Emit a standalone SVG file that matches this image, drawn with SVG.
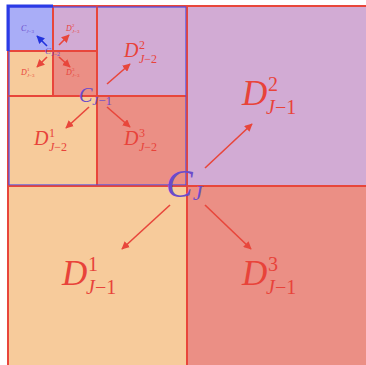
<svg xmlns="http://www.w3.org/2000/svg" width="366" height="365" viewBox="0 0 366 365">
<defs>
<style>
.pe{fill:#F7CB9B}.sa{fill:#EB8F85}.la{fill:#D2ABD4}.bl{fill:#A9ADF7}
.rb{fill:none;stroke:#E8463B;stroke-width:2}
.bb{fill:none;stroke:#4B4FE6;stroke-width:1.2}
.d{font-family:"Liberation Serif",serif;fill:#E8433A}
.c{font-family:"Liberation Serif",serif;fill:#6A4BCB}
.i{font-style:italic}
.ar{stroke:#E8463B;stroke-width:1.6;fill:none;marker-end:url(#ah)}
.ab{stroke:#2233DD;stroke-width:1.6;fill:none;marker-end:url(#ahb)}
</style>
<marker id="ah" viewBox="0 0 10 10" refX="9" refY="5" markerWidth="5" markerHeight="5" orient="auto"><path d="M0,0 L10,5 L0,10 z" fill="#E8463B"/></marker>
<marker id="ahb" viewBox="0 0 10 10" refX="9" refY="5" markerWidth="5" markerHeight="5" orient="auto"><path d="M0,0 L10,5 L0,10 z" fill="#2233DD"/></marker>
</defs>
<rect width="366" height="365" fill="#FFFFFF"/>
<g id="D2_J1"><rect class="la" x="187" y="6" width="183" height="180"/><rect class="rb" x="187" y="6" width="183" height="180"/>
<text class="d" x="242" y="105" font-size="35"><tspan class="i">D</tspan><tspan x="268" y="91" font-size="20">2</tspan><tspan class="i" x="266" y="114" font-size="20">J</tspan><tspan font-size="20">−1</tspan></text></g>
<g id="D1_J1"><rect class="pe" x="8" y="186" width="179" height="184"/><rect class="rb" x="8" y="186" width="179" height="184"/>
<text class="d" x="62" y="285" font-size="35"><tspan class="i">D</tspan><tspan x="88" y="271" font-size="20">1</tspan><tspan class="i" x="86" y="294" font-size="20">J</tspan><tspan font-size="20">−1</tspan></text></g>
<g id="D3_J1"><rect class="sa" x="187" y="186" width="183" height="184"/><rect class="rb" x="187" y="186" width="183" height="184"/>
<text class="d" x="242" y="285" font-size="35"><tspan class="i">D</tspan><tspan x="268" y="271" font-size="20">3</tspan><tspan class="i" x="266" y="294" font-size="20">J</tspan><tspan font-size="20">−1</tspan></text></g>
<g id="D2_J2"><rect class="la" x="97" y="6" width="90" height="90"/><rect class="rb" x="97" y="6" width="90" height="90"/>
<text class="d" x="124" y="57" font-size="20"><tspan class="i">D</tspan><tspan x="139" y="49" font-size="12">2</tspan><tspan class="i" x="139" y="63" font-size="12">J</tspan><tspan font-size="12">−2</tspan></text></g>
<g id="D1_J2"><rect class="pe" x="8" y="96" width="89" height="90"/><rect class="rb" x="8" y="96" width="89" height="90"/>
<text class="d" x="34" y="145" font-size="20"><tspan class="i">D</tspan><tspan x="49" y="137" font-size="12">1</tspan><tspan class="i" x="49" y="151" font-size="12">J</tspan><tspan font-size="12">−2</tspan></text></g>
<g id="D3_J2"><rect class="sa" x="97" y="96" width="90" height="90"/><rect class="rb" x="97" y="96" width="90" height="90"/>
<text class="d" x="124" y="145" font-size="20"><tspan class="i">D</tspan><tspan x="139" y="137" font-size="12">3</tspan><tspan class="i" x="139" y="151" font-size="12">J</tspan><tspan font-size="12">−2</tspan></text></g>
<g id="C_J3"><rect class="bl" x="8" y="6" width="45" height="45"/>
<text class="c" x="21" y="31" font-size="8"><tspan class="i">C</tspan><tspan class="i" font-size="5" dy="1.5">J</tspan><tspan font-size="5">−3</tspan></text></g>
<g id="D2_J3"><rect class="la" x="53" y="6" width="44" height="45"/><rect class="rb" x="53" y="6" width="44" height="45"/>
<text class="d" x="66" y="31" font-size="8"><tspan class="i">D</tspan><tspan x="72" y="27" font-size="5">2</tspan><tspan class="i" x="72" y="33" font-size="5">J</tspan><tspan font-size="5">−3</tspan></text></g>
<g id="D1_J3"><rect class="pe" x="8" y="51" width="45" height="45"/><rect class="rb" x="8" y="51" width="45" height="45"/>
<text class="d" x="21" y="75" font-size="8"><tspan class="i">D</tspan><tspan x="27" y="71" font-size="5">1</tspan><tspan class="i" x="27" y="77" font-size="5">J</tspan><tspan font-size="5">−3</tspan></text></g>
<g id="D3_J3"><rect class="sa" x="53" y="51" width="44" height="45"/><rect class="rb" x="53" y="51" width="44" height="45"/>
<text class="d" x="66" y="75" font-size="8"><tspan class="i">D</tspan><tspan x="72" y="71" font-size="5">3</tspan><tspan class="i" x="72" y="77" font-size="5">J</tspan><tspan font-size="5">−3</tspan></text></g>
<g id="outlines">
<rect class="bb" x="9" y="7" width="177" height="178"/>
<path d="M187,6 L187,186 M8,186 L187,186 M97,6 L97,96 M8,96 L97,96" fill="none" stroke="#E8463B" stroke-width="2" opacity="0.6"/>
<path d="M8,51 L8,6 L53,6" fill="none" stroke="#2A3BE6" stroke-width="3"/>
</g>
<g id="C_labels">
<text class="c" x="166" y="197" font-size="40"><tspan class="i">C</tspan><tspan class="i" font-size="22" dy="3">J</tspan></text>
<text class="c" x="79" y="102" font-size="20"><tspan class="i">C</tspan><tspan class="i" font-size="13" dy="3">J</tspan><tspan font-size="13">−1</tspan></text>
<text class="c" x="45" y="54" font-size="9"><tspan class="i">C</tspan><tspan class="i" font-size="6" dy="1.5">J</tspan><tspan font-size="6">−2</tspan></text>
</g>
<g id="connectors">
<line class="ar" x1="205" y1="168" x2="252" y2="124"/>
<line class="ar" x1="170" y1="205" x2="122" y2="249"/>
<line class="ar" x1="205" y1="205" x2="251" y2="249"/>
<line class="ar" x1="107" y1="84" x2="130" y2="64"/>
<line class="ar" x1="89" y1="107" x2="66" y2="128"/>
<line class="ar" x1="107" y1="107" x2="130" y2="127"/>
<line class="ab" x1="47" y1="46" x2="37" y2="36"/>
<line class="ar" x1="59" y1="45" x2="69" y2="35"/>
<line class="ar" x1="47" y1="57" x2="37" y2="67"/>
<line class="ar" x1="59" y1="57" x2="70" y2="67"/>
</g>
</svg>
